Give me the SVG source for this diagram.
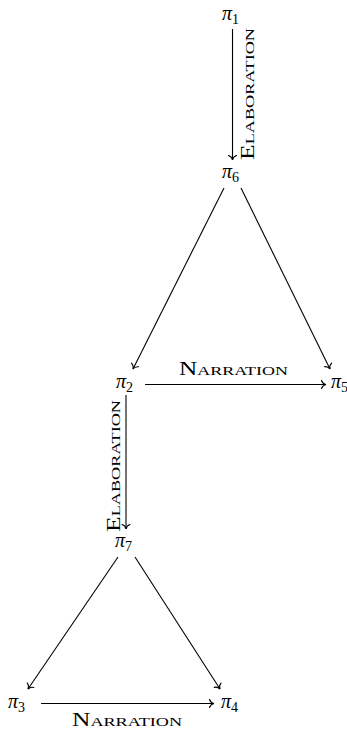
<svg xmlns="http://www.w3.org/2000/svg" width="347" height="732" viewBox="0 0 347 732">
<style>
.m{font-family:"Liberation Serif",serif;font-style:italic;font-size:20px;fill:#000}
.s{font-style:normal;font-size:14px}
.l{font-family:"Liberation Serif",serif;font-size:19px;fill:#000}
.sc{font-size:13.5px}
.c{stroke:#000;stroke-width:1.1;fill:none;marker-end:url(#ah)}
</style>
<defs>
<marker id="ah" markerUnits="userSpaceOnUse" markerWidth="12" markerHeight="12" refX="6" refY="6" orient="auto" viewBox="0 0 12 12">
<path d="M1.5,2 C2.2,4 4,5.6 6,6 C4,6.4 2.2,8 1.5,10" fill="none" stroke="#000" stroke-width="1.1" stroke-linecap="round"/>
</marker>
</defs>
<rect width="347" height="732" fill="#fff"/>
<g id="connectors">
<path class="c" d="M232.5,29 L232.5,160"/>
<path class="c" d="M224,188 L133,369"/>
<path class="c" d="M241,188 L330,369"/>
<path class="c" d="M145,384.5 L326,384.5"/>
<path class="c" d="M126,395 L126,529"/>
<path class="c" d="M118,557 L28,689"/>
<path class="c" d="M135,557 L220,689"/>
<path class="c" d="M41,703.5 L214,703.5"/>
<text class="l" transform="translate(254,160) rotate(-90)" textLength="132" lengthAdjust="spacingAndGlyphs">E<tspan class="sc">LABORATION</tspan></text>
<text class="l" x="179" y="375" textLength="109" lengthAdjust="spacingAndGlyphs">N<tspan class="sc">ARRATION</tspan></text>
<text class="l" transform="translate(120,532) rotate(-90)" textLength="132" lengthAdjust="spacingAndGlyphs">E<tspan class="sc">LABORATION</tspan></text>
<text class="l" x="72" y="726" textLength="110" lengthAdjust="spacingAndGlyphs">N<tspan class="sc">ARRATION</tspan></text>
</g>
<g id="pi1"><text class="m" x="222" y="20">π<tspan class="s" dy="3.5">1</tspan></text></g>
<g id="pi6"><text class="m" x="222" y="178">π<tspan class="s" dy="3.5">6</tspan></text></g>
<g id="pi2"><text class="m" x="116" y="388">π<tspan class="s" dy="3.5">2</tspan></text></g>
<g id="pi5"><text class="m" x="331" y="388">π<tspan class="s" dy="3.5">5</tspan></text></g>
<g id="pi7"><text class="m" x="115" y="547">π<tspan class="s" dy="3.5">7</tspan></text></g>
<g id="pi3"><text class="m" x="8" y="708">π<tspan class="s" dy="3.5">3</tspan></text></g>
<g id="pi4"><text class="m" x="221" y="708">π<tspan class="s" dy="3.5">4</tspan></text></g>
</svg>
